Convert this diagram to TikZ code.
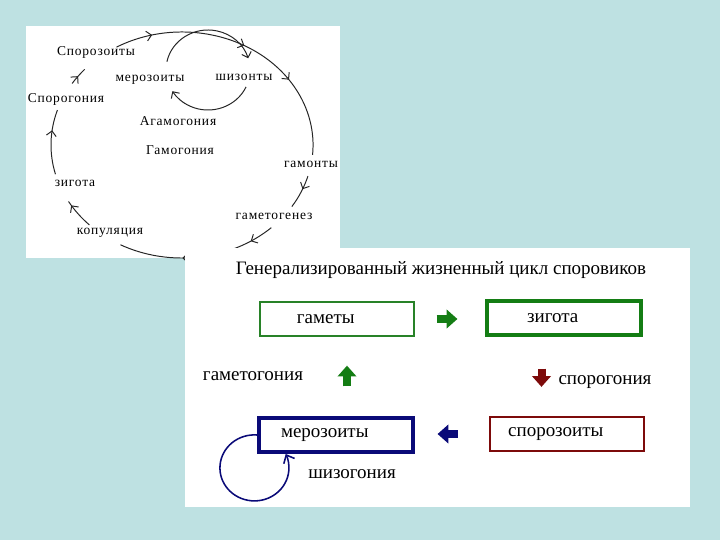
\documentclass[tikz,border=0pt]{standalone}
\usepackage{fontspec}
\setmainfont{Liberation Serif}
\newfontfamily\cyclefont[LetterSpace=6]{Liberation Serif}
\usetikzlibrary{arrows.meta}
\usetikzlibrary{decorations.markings}
\definecolor{slidebg}{RGB}{190,225,226}
\definecolor{gamgreen}{RGB}{40,130,40}
\definecolor{arrgreen}{RGB}{20,125,20}
\definecolor{sporred}{RGB}{125,10,10}
\definecolor{merblue}{RGB}{10,10,120}
\tikzset{
	panel/.style={fill=white},
	stage/.style={font=\cyclefont\fontsize{9.6}{11}\selectfont, inner sep=1pt},
	cycleline/.style={line width=0.7pt, black!85},
	arrowmark/.style={postaction={decorate, decoration={markings,
		mark=at position #1 with {\arrow{Straight Barb[length=3.5pt,width=7pt]}}}}},
	cellbox/.style={draw, minimum width=3.85cm, minimum height=0.85cm, inner sep=0pt,
		font=\fontsize{13.5}{16}\selectfont, execute at end node={\hspace{16pt}}},
	caption/.style={font=\fontsize{13.5}{16}\selectfont},
	blockarrow/.style={line width=0.2cm, -{Triangle[length=0.27cm,width=0.46cm]}}
}

\begin{document}
\begin{tikzpicture}[x=0.025cm, y=0.025cm, yscale=-1]
	\fill[slidebg] (0,0) rectangle (720,540);
	\useasboundingbox (0,0) rectangle (720,540);
	% life cycle sketch
	\fill[panel] (26,26) rectangle (340,258);
	\coordinate (cyc) at (182,145);
	\coordinate (agc) at (208,70);
	\node[stage] (spz) at (96,52) {Спорозоиты};
	\node[stage] (mer) at (150,80) {мерозоиты};
	\node[stage] (shz) at (244,77) {шизонты};
	\node[stage] (spg) at (66,99) {Спорогония};
	\node[stage] (agm) at (178,121) {Агамогония};
	\node[stage] (gmg) at (180,150) {Гамогония};
	\node[stage] (gmt) at (311,164) {гамонты};
	\node[stage] (zyg) at (75,183) {зигота};
	\node[stage] (gtg) at (274,216) {гаметогенез};
	\node[stage] (kop) at (110,233) {копуляция};
	\draw[cycleline, arrowmark=0.14, arrowmark=0.49, arrowmark=0.7] (cyc) ++(240:131 and 113)
		arc[start angle=240, end angle=365, x radius=3.275cm, y radius=2.825cm];
	\draw[cycleline, arrowmark=0.41] (cyc) ++(16:131 and 113)
		arc[start angle=16, end angle=33, x radius=3.275cm, y radius=2.825cm];
	\draw[cycleline, arrowmark=0.155, arrowmark=0.6] (cyc) ++(47:131 and 113)
		arc[start angle=47, end angle=118, x radius=3.275cm, y radius=2.825cm];
	\draw[cycleline, arrowmark=0.85] (cyc) ++(135:131 and 113)
		arc[start angle=135, end angle=150, x radius=3.275cm, y radius=2.825cm];
	\draw[cycleline, arrowmark=0.68] (cyc) ++(165:131 and 113)
		arc[start angle=165, end angle=198, x radius=3.275cm, y radius=2.825cm];
	\draw[cycleline, arrowmark=0.5] (cyc) ++(213:131 and 113)
		arc[start angle=213, end angle=222, x radius=3.275cm, y radius=2.825cm];
	% agamogony loop
	\draw[cycleline, -{Straight Barb[length=3.5pt,width=7pt]}] (agc) ++(192:42 and 40)
		arc[start angle=192, end angle=343, x radius=1.05cm, y radius=1cm];
	\draw[cycleline, -{Straight Barb[length=3.5pt,width=7pt]}] (agc) ++(25:42 and 40)
		arc[start angle=25, end angle=148, x radius=1.05cm, y radius=1cm];
	% generalized scheme
	\fill[panel] (185,248) rectangle (690,507);
	\node[caption] (title) at (441,270) {Генерализированный жизненный цикл споровиков};
	\node[cellbox, draw=gamgreen, line width=0.9pt] (gamety) at (337,319) {гаметы};
	\node[cellbox, draw=arrgreen, line width=2.2pt] (zigota) at (564,318) {зигота};
	\node[cellbox, draw=merblue, line width=2.2pt] (merozoity) at (336,435) {мерозоиты};
	\node[cellbox, draw=sporred, line width=1.6pt] (sporozoity) at (567,434) {спорозоиты};
	\node[caption] (gametogonia) at (253,376) {гаметогония};
	\node[caption] (sporogonia) at (605,382) {спорогония};
	\node[caption] (shizogonia) at (352,474) {шизогония};
	\draw[blockarrow, arrgreen, shorten <=0.55cm, shorten >=0.7cm] (gamety.east) -- (gamety.east -| zigota.west);
	\draw[blockarrow, sporred, shorten <=0.8cm, shorten >=0.725cm]
		([xshift=-0.5625cm]zigota.south) -- ([xshift=-0.5625cm]zigota.south |- sporozoity.north);
	\draw[blockarrow, merblue, shorten <=0.775cm, shorten >=0.575cm] (sporozoity.west) -- (sporozoity.west -| merozoity.east);
	\draw[blockarrow, arrgreen, shorten <=0.75cm, shorten >=0.725cm]
		([xshift=0.275cm]merozoity.north) -- ([xshift=0.275cm]merozoity.north |- gamety.south);
	\draw[merblue, line width=1.1pt, -{Straight Barb[length=0.17cm,width=0.3cm]}] (merozoity.west)
		arc[start angle=275, end angle=-25, x radius=0.8625cm, y radius=0.825cm];
\end{tikzpicture}
\end{document}
